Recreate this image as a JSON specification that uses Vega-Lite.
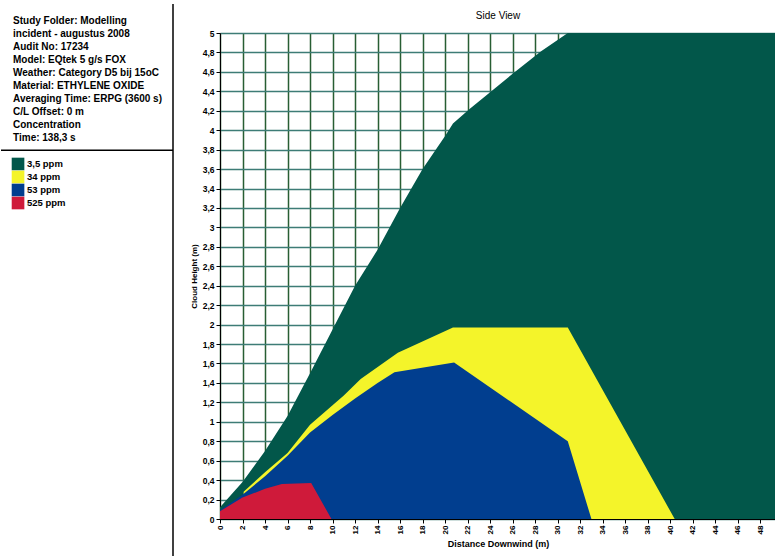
{
  "$schema": "https://vega.github.io/schema/vega-lite/v6.json",
  "padding": {"left": 0, "top": 3, "right": 0, "bottom": 0},
  "background": "white",
  "config": {"font": "Liberation Sans", "view": {"stroke": null}},
  "bounds": "flush",
  "spacing": 47,
  "datasets": {
    "info": [
      {"kind": "text", "row": 0, "text": "Study Folder: Modelling"},
      {"kind": "text", "row": 1, "text": "incident - augustus 2008"},
      {"kind": "text", "row": 2, "text": "Audit No: 17234"},
      {"kind": "text", "row": 3, "text": "Model: EQtek 5 g/s FOX"},
      {"kind": "text", "row": 4, "text": "Weather: Category D5 bij 15oC"},
      {"kind": "text", "row": 5, "text": "Material: ETHYLENE OXIDE"},
      {"kind": "text", "row": 6, "text": "Averaging Time: ERPG (3600 s)"},
      {"kind": "text", "row": 7, "text": "C/L Offset: 0 m"},
      {"kind": "text", "row": 8, "text": "Concentration"},
      {"kind": "text", "row": 9, "text": "Time: 138,3 s"},
      {"kind": "sep", "row": 9.95, "text": ""},
      {"kind": "legend", "row": 11, "text": "3,5 ppm"},
      {"kind": "legend", "row": 12, "text": "34 ppm"},
      {"kind": "legend", "row": 13, "text": "53 ppm"},
      {"kind": "legend", "row": 14, "text": "525 ppm"},
      {"kind": "vline", "row": 0, "text": ""}
    ],
    "clouds": [
      {"level": "3,5 ppm", "d": 0, "h": 0.12},
      {"level": "3,5 ppm", "d": 2, "h": 0.38},
      {"level": "3,5 ppm", "d": 4, "h": 0.7},
      {"level": "3,5 ppm", "d": 6, "h": 1.06},
      {"level": "3,5 ppm", "d": 8, "h": 1.5},
      {"level": "3,5 ppm", "d": 10, "h": 1.95},
      {"level": "3,5 ppm", "d": 12, "h": 2.4},
      {"level": "3,5 ppm", "d": 14, "h": 2.77},
      {"level": "3,5 ppm", "d": 16, "h": 3.2},
      {"level": "3,5 ppm", "d": 18, "h": 3.6},
      {"level": "3,5 ppm", "d": 20, "h": 3.94},
      {"level": "3,5 ppm", "d": 20.7, "h": 4.07},
      {"level": "3,5 ppm", "d": 22.2, "h": 4.22},
      {"level": "3,5 ppm", "d": 24, "h": 4.39},
      {"level": "3,5 ppm", "d": 26, "h": 4.58},
      {"level": "3,5 ppm", "d": 28.5, "h": 4.81},
      {"level": "3,5 ppm", "d": 30.9, "h": 5.0},
      {"level": "3,5 ppm", "d": 49.4, "h": 5.0},
      {"level": "34 ppm", "d": 2.1, "h": 0.28},
      {"level": "34 ppm", "d": 4, "h": 0.48},
      {"level": "34 ppm", "d": 6, "h": 0.68},
      {"level": "34 ppm", "d": 8, "h": 0.97},
      {"level": "34 ppm", "d": 10, "h": 1.17},
      {"level": "34 ppm", "d": 11, "h": 1.27},
      {"level": "34 ppm", "d": 12.5, "h": 1.44},
      {"level": "34 ppm", "d": 15.8, "h": 1.71},
      {"level": "34 ppm", "d": 20.7, "h": 1.97},
      {"level": "34 ppm", "d": 30.9, "h": 1.97},
      {"level": "34 ppm", "d": 40.4, "h": 0},
      {"level": "53 ppm", "d": 0, "h": 0.09},
      {"level": "53 ppm", "d": 2, "h": 0.25},
      {"level": "53 ppm", "d": 4, "h": 0.44},
      {"level": "53 ppm", "d": 6, "h": 0.65},
      {"level": "53 ppm", "d": 8, "h": 0.89},
      {"level": "53 ppm", "d": 10, "h": 1.07},
      {"level": "53 ppm", "d": 12, "h": 1.24},
      {"level": "53 ppm", "d": 14, "h": 1.4},
      {"level": "53 ppm", "d": 15.5, "h": 1.51},
      {"level": "53 ppm", "d": 20.8, "h": 1.61},
      {"level": "53 ppm", "d": 30.9, "h": 0.8},
      {"level": "53 ppm", "d": 33, "h": 0},
      {"level": "525 ppm", "d": 0, "h": 0.08},
      {"level": "525 ppm", "d": 2, "h": 0.22},
      {"level": "525 ppm", "d": 4, "h": 0.31},
      {"level": "525 ppm", "d": 5.5, "h": 0.36},
      {"level": "525 ppm", "d": 8.1, "h": 0.37},
      {"level": "525 ppm", "d": 9.9, "h": 0}
    ]
  },
  "hconcat": [
    {
      "width": 172,
      "height": 524,
      "data": {"name": "info"},
      "layer": [
        {
          "transform": [{"filter": "datum.kind == 'text'"}],
          "mark": {"type": "text", "align": "left", "baseline": "middle", "fontSize": 10, "fontWeight": "bold", "color": "black", "clip": false},
          "encoding": {
            "x": {"datum": 0.07, "type": "quantitative", "scale": {"domain": [0, 1], "nice": false, "zero": false}, "axis": null},
            "y": {"field": "row", "type": "quantitative", "scale": {"domain": [0.923, 41.23], "reverse": true, "nice": false, "zero": false}, "axis": null},
            "text": {"field": "text"}
          }
        },
        {
          "transform": [{"filter": "datum.kind == 'legend'"}],
          "mark": {"type": "text", "align": "left", "baseline": "middle", "fontSize": 9.5, "fontWeight": "bold", "color": "black"},
          "encoding": {
            "x": {"datum": 0.151, "type": "quantitative"},
            "y": {"field": "row", "type": "quantitative"},
            "text": {"field": "text"}
          }
        },
        {
          "transform": [{"filter": "datum.kind == 'legend'"}],
          "mark": {"type": "point", "shape": "square", "filled": true, "size": 160, "opacity": 1},
          "encoding": {
            "x": {"datum": 0.099, "type": "quantitative"},
            "y": {"field": "row", "type": "quantitative"},
            "color": {"field": "text", "type": "nominal", "legend": null}
          }
        },
        {
          "transform": [{"filter": "datum.kind == 'sep'"}],
          "mark": {"type": "rule", "color": "black", "strokeWidth": 1.5},
          "encoding": {
            "x": {"datum": 0, "type": "quantitative"},
            "x2": {"datum": 1},
            "y": {"field": "row", "type": "quantitative"}
          }
        },
        {
          "transform": [{"filter": "datum.kind == 'vline'"}],
          "mark": {"type": "rule", "color": "black", "strokeWidth": 1.5, "clip": false},
          "encoding": {
            "x": {"datum": 1, "type": "quantitative"},
            "y": {"datum": -1.3, "type": "quantitative"},
            "y2": {"datum": 41.23}
          }
        }
      ]
    },
    {
      "width": 556,
      "height": 486,
      "title": {"text": "Side View", "fontSize": 10, "fontWeight": "normal", "offset": 8, "color": "black"},
      "data": {"name": "clouds"},
      "encoding": {
        "x": {
          "field": "d", "type": "quantitative",
          "scale": {"domain": [0, 49.4], "nice": false},
          "axis": {
            "values": [0, 2, 4, 6, 8, 10, 12, 14, 16, 18, 20, 22, 24, 26, 28, 30, 32, 34, 36, 38, 40, 42, 44, 46, 48],
            "labelAngle": -90, "labelFontSize": 8, "labelFontWeight": "bold", "labelColor": "black",
            "tickColor": "black", "tickSize": 4, "domainColor": "black",
            "grid": true, "gridColor": "#285e33", "gridWidth": 1.5, "gridOpacity": 1,
            "title": "Distance Downwind (m)", "titleFontSize": 9, "titleFontWeight": "bold", "titleColor": "black", "titlePadding": 6
          }
        },
        "y": {
          "field": "h", "type": "quantitative", "stack": null,
          "scale": {"domain": [0, 5], "nice": false},
          "axis": {
            "values": [0, 0.2, 0.4, 0.6, 0.8, 1, 1.2, 1.4, 1.6, 1.8, 2, 2.2, 2.4, 2.6, 2.8, 3, 3.2, 3.4, 3.6, 3.8, 4, 4.2, 4.4, 4.6, 4.8, 5],
            "labelExpr": "replace(format(datum.value, '.1~f'), '.', ',')",
            "labelFontSize": 8.5, "labelFontWeight": "bold", "labelColor": "black",
            "tickColor": "black", "tickSize": 4, "domainColor": "black",
            "grid": true, "gridColor": "#3d7c76", "gridWidth": 1.5, "gridOpacity": 1,
            "title": "Cloud Height (m)", "titleFontSize": 8, "titleFontWeight": "bold", "titleColor": "black", "titlePadding": 4
          }
        },
        "color": {
          "field": "level", "type": "nominal",
          "scale": {"domain": ["3,5 ppm", "34 ppm", "53 ppm", "525 ppm"], "range": ["#02574a", "#f4f42a", "#013e8f", "#cf1a3a"]},
          "legend": null
        }
      },
      "layer": [
        {"transform": [{"filter": "datum.level == '3,5 ppm'"}], "mark": {"type": "area", "clip": true, "opacity": 1}},
        {"transform": [{"filter": "datum.level == '34 ppm'"}], "mark": {"type": "area", "clip": true, "opacity": 1}},
        {"transform": [{"filter": "datum.level == '53 ppm'"}], "mark": {"type": "area", "clip": true, "opacity": 1}},
        {"transform": [{"filter": "datum.level == '525 ppm'"}], "mark": {"type": "area", "clip": true, "opacity": 1}}
      ]
    }
  ]
}
